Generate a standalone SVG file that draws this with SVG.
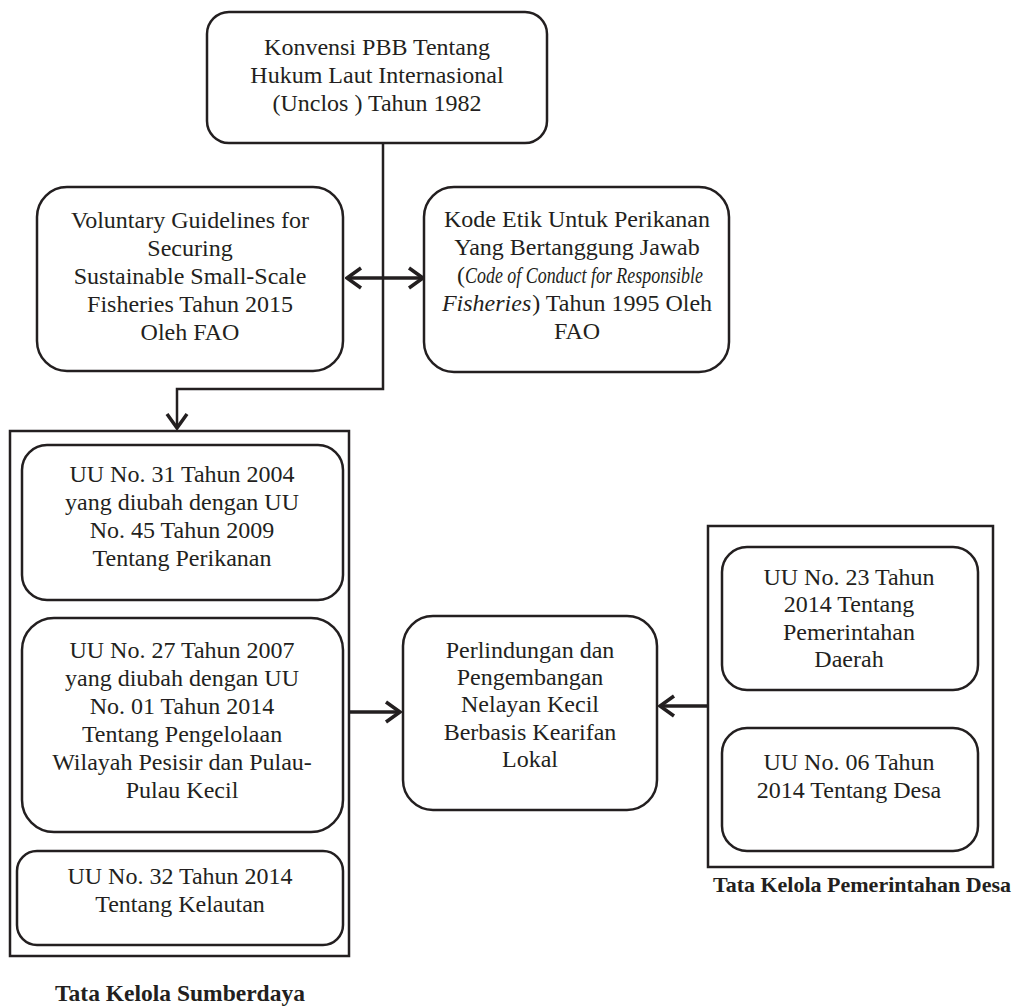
<svg xmlns="http://www.w3.org/2000/svg" width="1016" height="1008" viewBox="0 0 1016 1008">
<defs>
<style>
.box{fill:#fff;stroke:#231f20;stroke-width:2.5}
.frame{fill:none;stroke:#231f20;stroke-width:2.5}
.t{font-family:"Liberation Serif","Times New Roman",serif;font-size:24px;fill:#231f20;text-anchor:middle}
.lbl{font-family:"Liberation Serif","Times New Roman",serif;font-size:22px;font-weight:bold;fill:#231f20;text-anchor:middle}
.ln{fill:none;stroke:#231f20;stroke-width:2.5}
.ar{fill:none;stroke:#231f20;stroke-width:3.5}
.it{font-style:italic}
</style>
<marker id="ah" viewBox="-18 -13 20 26" refX="0" refY="0" markerWidth="20" markerHeight="26" markerUnits="userSpaceOnUse" orient="auto-start-reverse">
<path d="M-14,-10 L0,0 L-14,10" fill="none" stroke="#231f20" stroke-width="3.5"/>
</marker>
</defs>

<g id="connectors">
<polyline class="ln" points="383,143 383,389 177,389 177,428" marker-end="url(#ah)"/>
<line class="ar" x1="347" y1="278" x2="423" y2="278" marker-start="url(#ah)" marker-end="url(#ah)"/>
<line class="ar" x1="349" y1="712" x2="400" y2="712" marker-end="url(#ah)"/>
<line class="ar" x1="708" y1="706" x2="660" y2="706" marker-end="url(#ah)"/>
</g>

<g id="unclos">
<rect class="box" x="207" y="12" width="340" height="131" rx="22"/>
<text class="t" x="377" y="55">Konvensi PBB Tentang</text>
<text class="t" x="377" y="83">Hukum Laut Internasional</text>
<text class="t" x="377" y="111">(Unclos ) Tahun 1982</text>
</g>

<g id="voluntary">
<rect class="box" x="37" y="187" width="306" height="184" rx="30"/>
<text class="t" x="190" y="228">Voluntary Guidelines for</text>
<text class="t" x="190" y="256">Securing</text>
<text class="t" x="190" y="284">Sustainable Small-Scale</text>
<text class="t" x="190" y="312">Fisheries Tahun 2015</text>
<text class="t" x="190" y="340">Oleh FAO</text>
</g>

<g id="kode-etik">
<rect class="box" x="424" y="187" width="305" height="185" rx="30"/>
<text class="t" x="577" y="227">Kode Etik Untuk Perikanan</text>
<text class="t" x="577" y="255">Yang Bertanggung Jawab</text>
<text class="t" x="580" y="283">(<tspan class="it" textLength="238" lengthAdjust="spacingAndGlyphs">Code of Conduct for Responsible</tspan></text>
<text class="t" x="577" y="311"><tspan class="it">Fisheries</tspan><tspan dx="1">) Tahun 1995 Oleh</tspan></text>
<text class="t" x="577" y="339">FAO</text>
</g>

<g id="tata-kelola-sumberdaya">
<rect class="frame" x="10" y="431" width="339" height="525"/>
<text class="lbl" x="180" y="1001" style="font-size:23.5px">Tata Kelola Sumberdaya</text>
</g>

<g id="uu31">
<rect class="box" x="22" y="445" width="321" height="155" rx="25"/>
<text class="t" x="182" y="482">UU No. 31 Tahun 2004</text>
<text class="t" x="182" y="510">yang diubah dengan UU</text>
<text class="t" x="182" y="538">No. 45 Tahun 2009</text>
<text class="t" x="182" y="566">Tentang Perikanan</text>
</g>

<g id="uu27">
<rect class="box" x="22" y="618" width="321" height="214" rx="32"/>
<text class="t" x="182" y="658">UU No. 27 Tahun 2007</text>
<text class="t" x="182" y="686">yang diubah dengan UU</text>
<text class="t" x="182" y="714">No. 01 Tahun 2014</text>
<text class="t" x="182" y="742">Tentang Pengelolaan</text>
<text class="t" x="182" y="770">Wilayah Pesisir dan Pulau-</text>
<text class="t" x="182" y="798">Pulau Kecil</text>
</g>

<g id="uu32">
<rect class="box" x="17" y="851" width="326" height="94" rx="20"/>
<text class="t" x="180" y="884">UU No. 32 Tahun 2014</text>
<text class="t" x="180" y="912">Tentang Kelautan</text>
</g>

<g id="perlindungan">
<rect class="box" x="403" y="616" width="254" height="194" rx="30"/>
<text class="t" x="530" y="658">Perlindungan dan</text>
<text class="t" x="530" y="685">Pengembangan</text>
<text class="t" x="530" y="712">Nelayan Kecil</text>
<text class="t" x="530" y="740">Berbasis Kearifan</text>
<text class="t" x="530" y="767">Lokal</text>
</g>

<g id="tata-kelola-pemerintahan-desa">
<rect class="frame" x="708" y="526" width="285" height="341"/>
<text class="lbl" x="862" y="892">Tata Kelola Pemerintahan Desa</text>
</g>

<g id="uu23">
<rect class="box" x="722" y="547" width="256" height="143" rx="25"/>
<text class="t" x="849" y="585">UU No. 23 Tahun</text>
<text class="t" x="849" y="612">2014 Tentang</text>
<text class="t" x="849" y="640">Pemerintahan</text>
<text class="t" x="849" y="667">Daerah</text>
</g>

<g id="uu06">
<rect class="box" x="722" y="728" width="256" height="123" rx="25"/>
<text class="t" x="849" y="770">UU No. 06 Tahun</text>
<text class="t" x="849" y="798">2014 Tentang Desa</text>
</g>
</svg>
